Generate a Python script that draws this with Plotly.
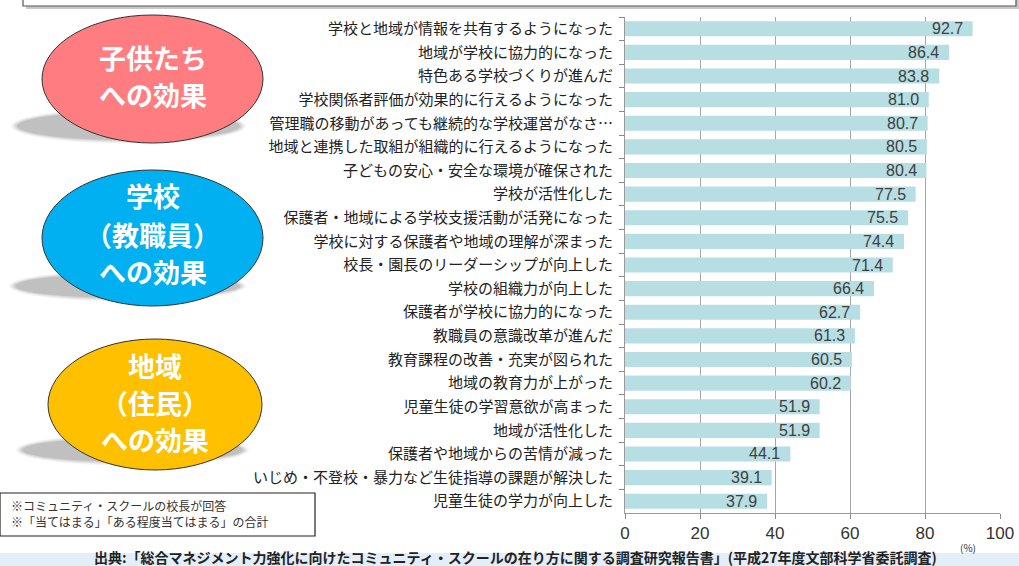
import plotly.graph_objects as go

categories = [
    "学校と地域が情報を共有するようになった",
    "地域が学校に協力的になった",
    "特色ある学校づくりが進んだ",
    "学校関係者評価が効果的に行えるようになった",
    "管理職の移動があっても継続的な学校運営がなさ…",
    "地域と連携した取組が組織的に行えるようになった",
    "子どもの安心・安全な環境が確保された",
    "学校が活性化した",
    "保護者・地域による学校支援活動が活発になった",
    "学校に対する保護者や地域の理解が深まった",
    "校長・園長のリーダーシップが向上した",
    "学校の組織力が向上した",
    "保護者が学校に協力的になった",
    "教職員の意識改革が進んだ",
    "教育課程の改善・充実が図られた",
    "地域の教育力が上がった",
    "児童生徒の学習意欲が高まった",
    "地域が活性化した",
    "保護者や地域からの苦情が減った",
    "いじめ・不登校・暴力など生徒指導の課題が解決した",
    "児童生徒の学力が向上した",
]
values = [92.7, 86.4, 83.8, 81.0, 80.7, 80.5, 80.4, 77.5, 75.5, 74.4, 71.4,
          66.4, 62.7, 61.3, 60.5, 60.2, 51.9, 51.9, 44.1, 39.1, 37.9]
x_ticks = [0, 20, 40, 60, 80, 100]

bubble_lines = [
    ["子供たち", "への効果"],
    ["学校", "（教職員）", "への効果"],
    ["地域", "（住民）", "への効果"],
]
notes_lines = ["※コミュニティ・スクールの校長が回答", "※「当てはまる」「ある程度当てはまる」の合計"]
source = "出典:「総合マネジメント力強化に向けたコミュニティ・スクールの在り方に関する調査研究報告書」(平成27年度文部科学省委託調査)"
unit = "(%)"

W, H = 1019, 566
ML, MR, MT, MB = 625, 19, 17, 53
PW = W - ML - MR
PH = H - MT - MB


def px(x):
    return (x - ML) / PW


def py(y):
    return (H - MB - y) / PH


FONT = "Noto Sans CJK JP"

fig = go.Figure()
fig.add_trace(go.Bar(
    x=values, y=categories, orientation="h",
    marker=dict(color="#B7DEE3", line=dict(width=0)),
    hoverinfo="skip",
))

annotations = []
for c, v in zip(categories, values):
    annotations.append(dict(
        x=v, y=c, xref="x", yref="y", text=f"{v:.1f}", showarrow=False,
        xanchor="right", xshift=-8,
        font=dict(family="Liberation Sans, Arial", size=16, color="#404040"),
    ))

shapes = []
# top frame remnant
shapes.append(dict(type="rect", xref="paper", yref="paper",
                   x0=px(26), x1=px(1019), y0=py(9), y1=py(-5),
                   fillcolor="rgba(120,120,120,0.4)", line=dict(width=0), layer="below"))
shapes.append(dict(type="rect", xref="paper", yref="paper",
                   x0=px(23), x1=px(1016), y0=py(6), y1=py(-5),
                   fillcolor="white", line=dict(color="#555", width=1.2), layer="below"))
# footer band
shapes.append(dict(type="rect", xref="paper", yref="paper",
                   x0=px(0), x1=px(W), y0=py(H), y1=py(553),
                   fillcolor="#E4EEF8", line=dict(width=0), layer="below"))

bubbles = [
    (42, 263, 15, 143, "#FF7C80", (17, 240, 112, 140), [57, 95]),
    (42, 263, 170, 306, "#00B0F0", (15, 240, 274, 298), [196, 234, 271]),
    (48, 262, 339, 470, "#FFC000", (22, 243, 438, 462), [365, 402, 439]),
]
for (x0, x1, y0, y1, col, sh, ly), lines in zip(bubbles, bubble_lines):
    sx0, sx1, sy0, sy1 = sh
    for k, a in enumerate([0.06, 0.09, 0.12, 0.16]):
        d = 6 - 2 * k
        shapes.append(dict(type="circle", xref="paper", yref="paper",
                           x0=px(sx0 - d), x1=px(sx1 + d), y0=py(sy1 + d * 0.6), y1=py(sy0 - d * 0.6),
                           fillcolor=f"rgba(90,90,90,{a})", line=dict(width=0)))
    shapes.append(dict(type="circle", xref="paper", yref="paper",
                       x0=px(x0), x1=px(x1), y0=py(y1), y1=py(y0),
                       fillcolor=col, line=dict(color="#333", width=1)))
    for t, yy in zip(lines, ly):
        annotations.append(dict(
            x=px((x0 + x1) / 2), y=py(yy), xref="paper", yref="paper",
            text=f"<b>{t}</b>", showarrow=False, xanchor="center", yanchor="middle",
            font=dict(family=FONT, size=27, color="white"),
        ))

# notes box
shapes.append(dict(type="rect", xref="paper", yref="paper",
                   x0=px(0), x1=px(315), y0=py(536), y1=py(493),
                   fillcolor="white", line=dict(color="#222", width=1.2)))
for t, yy in zip(notes_lines, [505, 521]):
    annotations.append(dict(
        x=px(9), y=py(yy), xref="paper", yref="paper", text=t, showarrow=False,
        xanchor="left", yanchor="middle", align="left",
        font=dict(family=FONT, size=12, color="#333"),
    ))
annotations.append(dict(
    x=px(968), y=py(547), xref="paper", yref="paper", text=unit, showarrow=False,
    xanchor="center", yanchor="middle",
    font=dict(family=FONT, size=10, color="#333"),
))
annotations.append(dict(
    x=px(515), y=py(557), xref="paper", yref="paper", text=f"<b>{source}</b>", showarrow=False,
    xanchor="center", yanchor="middle",
    font=dict(family=FONT, size=14, color="#222"),
))

fig.update_layout(
    width=W, height=H,
    margin=dict(l=ML, r=MR, t=MT, b=MB, pad=0, autoexpand=False),
    paper_bgcolor="white", plot_bgcolor="white",
    bargap=0.36, showlegend=False,
    shapes=shapes, annotations=annotations,
    font=dict(family=FONT),
)
fig.update_xaxes(
    range=[0, 100], tickvals=x_ticks, ticks="outside", ticklen=5, tickcolor="#888",
    showgrid=True, gridcolor="#A6A6A6", gridwidth=1, zeroline=False,
    showline=True, linecolor="#999", linewidth=1, automargin=False,
    tickfont=dict(family="Liberation Sans, Arial", size=17, color="#333"),
)
fig.update_yaxes(
    autorange="reversed", type="category", ticks="outside", ticklen=5, tickcolor="#888",
    tickson="boundaries", showgrid=False, showline=True, linecolor="#999", linewidth=1,
    ticklabelstandoff=8, automargin=False,
    tickfont=dict(family=FONT, size=15, color="#222"),
)

fig.write_html(
    "out.html",
    config={"displayModeBar": False},
    post_script="document.body.style.margin='0px';document.body.style.overflow='hidden';",
)
